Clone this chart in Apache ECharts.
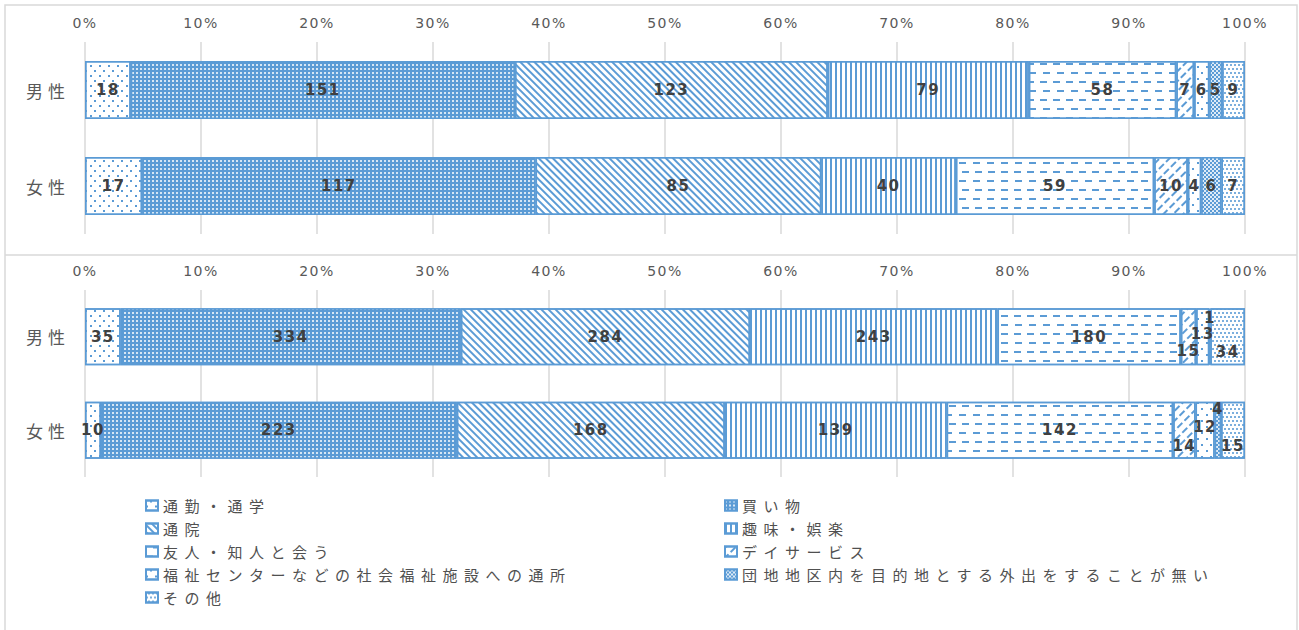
<!DOCTYPE html>
<html>
<head>
<meta charset="utf-8">
<script src="https://cdn.jsdelivr.net/npm/echarts@6/dist/echarts.min.js"></script>
<style>
  html, body { margin: 0; padding: 0; background: #fff; }
  #chart { width: 1299px; height: 630px; }
  /* Excel-like wide letter spacing */
  #chart text { letter-spacing: 1.5px; }
  #chart text[style*="CJK"] { letter-spacing: 6.5px; }
  #chart text[style*="CJK"][style*="17px"] { letter-spacing: 5px; }
</style>
</head>
<body>
<div id="chart"></div>
<script>
// 行き先の目的（凡例順）
const purposes = [
    '通勤・通学', '買い物', '通院', '趣味・娯楽', '友人・知人と会う',
    'デイサービス', '福祉センターなどの社会福祉施設への通所',
    '団地地区内を目的地とする外出をすることが無い', 'その他'
];
const categories = ['男性', '女性'];

// 上段
const topMale = [18, 151, 123, 79, 58, 7, 6, 5, 9];
const topFemale = [17, 117, 85, 40, 59, 10, 4, 6, 7];
// 下段
const bottomMale = [35, 334, 284, 243, 180, 15, 13, 1, 34];
const bottomFemale = [10, 223, 168, 139, 142, 14, 12, 4, 15];

const BLUE = '#5B9BD5';

// pattern per purpose
const fills = [
    { color: '#fff', decal: { symbol: 'rect', symbolSize: 1, color: BLUE, dashArrayX: [[1.5, 6.5], [0, 4, 1.5, 2.5]], dashArrayY: [1.5, 3] } },
    { color: BLUE, decal: { symbol: 'rect', symbolSize: 1, color: 'rgba(255,255,255,0.75)', dashArrayX: [1.5, 2], dashArrayY: [1.5, 2] } },
    { color: '#fff', decal: { symbol: 'rect', symbolSize: 1, color: BLUE, dashArrayX: [1, 0], dashArrayY: [1.8, 2.7], rotation: Math.PI / 4 } },
    { color: '#fff', decal: { symbol: 'rect', symbolSize: 1, color: BLUE, dashArrayX: [1.3, 2.2], dashArrayY: [1, 0] } },
    { color: '#fff', decal: { symbol: 'rect', symbolSize: 1, color: BLUE, dashArrayX: [[7, 6], [0, 6.5, 7, -0.5]], dashArrayY: [2, 7] } },
    { color: '#fff', decal: { symbol: 'rect', symbolSize: 1, color: BLUE, dashArrayX: [[7, 3]], dashArrayY: [1.5, 5], rotation: -Math.PI / 4 } },
    { color: '#fff', decal: { symbol: 'rect', symbolSize: 1, color: BLUE, dashArrayX: [[1.5, 6.5], [0, 4, 1.5, 2.5]], dashArrayY: [1.5, 4] } },
    { color: BLUE, decal: { symbol: 'rect', symbolSize: 1, color: 'rgba(255,255,255,0.8)', dashArrayX: [[2, 2], [0, 2, 2, 0]], dashArrayY: [2, 0] } },
    { color: '#fff', decal: { symbol: 'rect', symbolSize: 1, color: 'rgba(91,155,213,0.8)', dashArrayX: [[1.5, 1.5], [0, 1.5, 1.5, 0]], dashArrayY: [1.5, 1.2] } }
];

// manual label nudges for the thin segments in the lower chart
const bottomOffsets = [
    [0, 0, 0, 0, 0, 14, -3, -19, 15],
    [0, 0, 0, 0, 0, 16, -3, -21, 16]
];

const textGray = '#595959';
const numFont = 'DejaVu Sans, Verdana, sans-serif';
const jpFont = '"Noto Sans CJK JP", sans-serif';

function toPercent(rows) {
    return rows.map(r => {
        const total = r.reduce((a, b) => a + b, 0);
        return r.map(v => v / total * 100);
    });
}

function buildSeries(rows, gridIdx, stack, offsets, barWidth) {
    const pct = toPercent(rows);
    return purposes.map((name, i) => ({
        name: name,
        type: 'bar',
        stack: stack,
        xAxisIndex: gridIdx,
        yAxisIndex: gridIdx,
        barWidth: barWidth,
        itemStyle: {
            color: fills[i].color,
            decal: fills[i].decal,
            borderColor: BLUE,
            borderWidth: 1.5
        },
        label: {
            show: true,
            position: 'inside',
            color: '#404040',
            fontFamily: numFont,
            fontWeight: 'bold',
            fontSize: 15,
            formatter: p => p.data.raw
        },
        emphasis: { disabled: true },
        data: rows.map((r, c) => ({
            value: pct[c][i],
            raw: r[i],
            label: offsets ? { offset: [0, offsets[c][i]] } : undefined
        }))
    }));
}

function xAxisFor(gridIdx) {
    return {
        gridIndex: gridIdx,
        type: 'value',
        position: 'top',
        min: 0,
        max: 100,
        interval: 10,
        axisLine: { show: false },
        axisTick: { show: false },
        axisLabel: {
            formatter: '{value}%',
            color: textGray,
            fontFamily: numFont,
            fontSize: 14,
            margin: 12
        },
        splitLine: { lineStyle: { color: '#D9D9D9', width: 1.5 } }
    };
}

function yAxisFor(gridIdx) {
    return {
        gridIndex: gridIdx,
        type: 'category',
        inverse: true,
        data: categories,
        axisLine: { show: false },
        axisTick: { show: false },
        axisLabel: {
            color: textGray,
            fontFamily: jpFont,
            fontSize: 17,
            margin: 15
        }
    };
}

const chart = echarts.init(document.getElementById('chart'), null, { renderer: 'svg' });

const legendText = { color: '#505050', fontFamily: jpFont, fontSize: 15, lineHeight: 23 };

const option = {
    animation: false,
    backgroundColor: '#fff',
    graphic: [
        { type: 'rect', shape: { x: 5, y: 5, width: 1292, height: 640 }, style: { fill: 'none', stroke: '#D9D9D9', lineWidth: 1.5 }, silent: true },
        { type: 'line', shape: { x1: 5, y1: 255, x2: 1297, y2: 255 }, style: { stroke: '#D9D9D9', lineWidth: 1.5 }, silent: true }
    ],
    grid: [
        { left: 85, right: 54, top: 42, height: 192 },
        { left: 85, right: 54, top: 290, height: 187 }
    ],
    legend: [
        {
            data: [purposes[0], purposes[2], purposes[4], purposes[6], purposes[8]],
            orient: 'vertical',
            left: 140,
            top: 489,
            itemWidth: 12,
            itemHeight: 10,
            itemGap: 0,
            icon: 'rect',
            selectedMode: false,
            textStyle: legendText
        },
        {
            data: [purposes[1], purposes[3], purposes[5], purposes[7]],
            orient: 'vertical',
            left: 719,
            top: 489,
            itemWidth: 12,
            itemHeight: 10,
            itemGap: 0,
            icon: 'rect',
            selectedMode: false,
            textStyle: legendText
        }
    ],
    xAxis: [xAxisFor(0), xAxisFor(1)],
    yAxis: [yAxisFor(0), yAxisFor(1)],
    series: [
        ...buildSeries([topMale, topFemale], 0, 'top', null, 58),
        ...buildSeries([bottomMale, bottomFemale], 1, 'bottom', bottomOffsets, 57)
    ]
};

chart.setOption(option);
</script>
</body>
</html>
